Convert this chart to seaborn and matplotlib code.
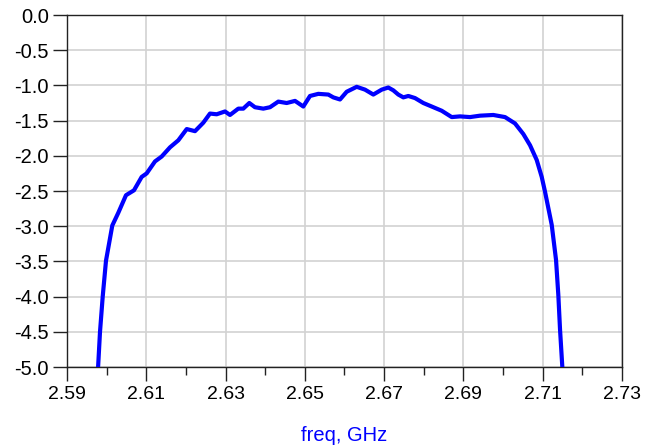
"""
Recreate the band-pass response plot (dB vs freq, GHz) with seaborn.
"""

import numpy as np
import pandas as pd
import matplotlib.pyplot as plt
import matplotlib.ticker as mticker
import seaborn as sns


OUTPUT_FILE = "out.png"

# Values.
freq_ghz = [
    2.5978, 2.59833, 2.59901, 2.59984, 2.60143, 2.60294, 2.60488, 2.60690,
    2.60884, 2.61010, 2.61220, 2.61389, 2.61598, 2.61808, 2.62020, 2.62229,
    2.62438, 2.62607, 2.62776, 2.62986, 2.63112, 2.63321, 2.63447, 2.63599,
    2.63742, 2.63952, 2.64121, 2.64330, 2.64542, 2.64752, 2.64961, 2.65130,
    2.65339, 2.65592, 2.65718, 2.65887, 2.66056, 2.66308, 2.66517, 2.66727,
    2.66939, 2.67105, 2.67231, 2.67357, 2.67484, 2.67610, 2.67779, 2.67988,
    2.68200, 2.68452, 2.68704, 2.68914, 2.69166, 2.69418, 2.69754, 2.70049,
    2.70301, 2.70510, 2.70680, 2.70849, 2.70975, 2.71058, 2.71227, 2.71336,
    2.71394, 2.71437, 2.71500,
]
gain_db = [
    -5.05, -4.50, -4.00, -3.49, -2.99, -2.81, -2.56, -2.49,
    -2.30, -2.25, -2.08, -2.01, -1.88, -1.78, -1.62, -1.65,
    -1.53, -1.40, -1.41, -1.37, -1.42, -1.33, -1.33, -1.25,
    -1.31, -1.33, -1.31, -1.23, -1.25, -1.22, -1.30, -1.15,
    -1.12, -1.13, -1.17, -1.20, -1.09, -1.02, -1.06, -1.13,
    -1.06, -1.03, -1.07, -1.13, -1.17, -1.15, -1.18, -1.25,
    -1.30, -1.36, -1.45, -1.44, -1.45, -1.43, -1.42, -1.45,
    -1.54, -1.69, -1.85, -2.06, -2.30, -2.51, -2.98, -3.48,
    -3.98, -4.47, -5.05,
]

x_ticks = [2.59, 2.61, 2.63, 2.65, 2.67, 2.69, 2.71, 2.73]
x_minor = [2.60, 2.62, 2.64, 2.66, 2.68, 2.70, 2.72]
y_ticks = [0.0, -0.5, -1.0, -1.5, -2.0, -2.5, -3.0, -3.5, -4.0, -4.5, -5.0]


def main():
    df = pd.DataFrame({"freq": freq_ghz, "db": gain_db})

    sns.set_theme(style="white")
    plt.rcParams["font.family"] = ["Liberation Sans", "DejaVu Sans"]
    plt.rcParams["axes.unicode_minus"] = False

    fig = plt.figure(figsize=(6.58, 4.48), dpi=100)
    ax = fig.add_axes([0.1018, 0.1808, 0.8435, 0.7857])

    sns.lineplot(data=df, x="freq", y="db", color="#0000ff",
                 linewidth=3.0, ax=ax, sort=False, zorder=3,
                 solid_joinstyle="round", solid_capstyle="butt")

    ax.set_xlim(2.59, 2.73)
    ax.set_ylim(-5.0, 0.0)

    ax.xaxis.set_major_locator(mticker.FixedLocator(x_ticks))
    ax.xaxis.set_minor_locator(mticker.FixedLocator(x_minor))
    ax.xaxis.set_major_formatter(mticker.FormatStrFormatter("%.2f"))
    ax.yaxis.set_major_locator(mticker.FixedLocator(y_ticks))
    ax.yaxis.set_major_formatter(mticker.FormatStrFormatter("%.1f"))

    ax.grid(which="major", color="#d2d2d2", linewidth=1.2)
    ax.set_axisbelow(True)

    for side in ax.spines:
        ax.spines[side].set_visible(True)
        ax.spines[side].set_color("#222222")
        ax.spines[side].set_linewidth(1.0)

    ax.tick_params(axis="both", which="major", direction="out", length=10,
                   width=1.0, color="#222222", labelcolor="black",
                   labelsize=14.5, pad=3, bottom=True, left=True)
    ax.tick_params(axis="x", which="minor", direction="out", length=6,
                   width=1.0, color="#222222", bottom=True)
    ax.tick_params(axis="x", which="major", labelsize=14, pad=4)

    ax.set_xlabel("freq, GHz", color="#0000ff", fontsize=14.5, labelpad=16)
    ax.set_ylabel("")

    fig.savefig(OUTPUT_FILE, dpi=100)


if __name__ == "__main__":
    main()
